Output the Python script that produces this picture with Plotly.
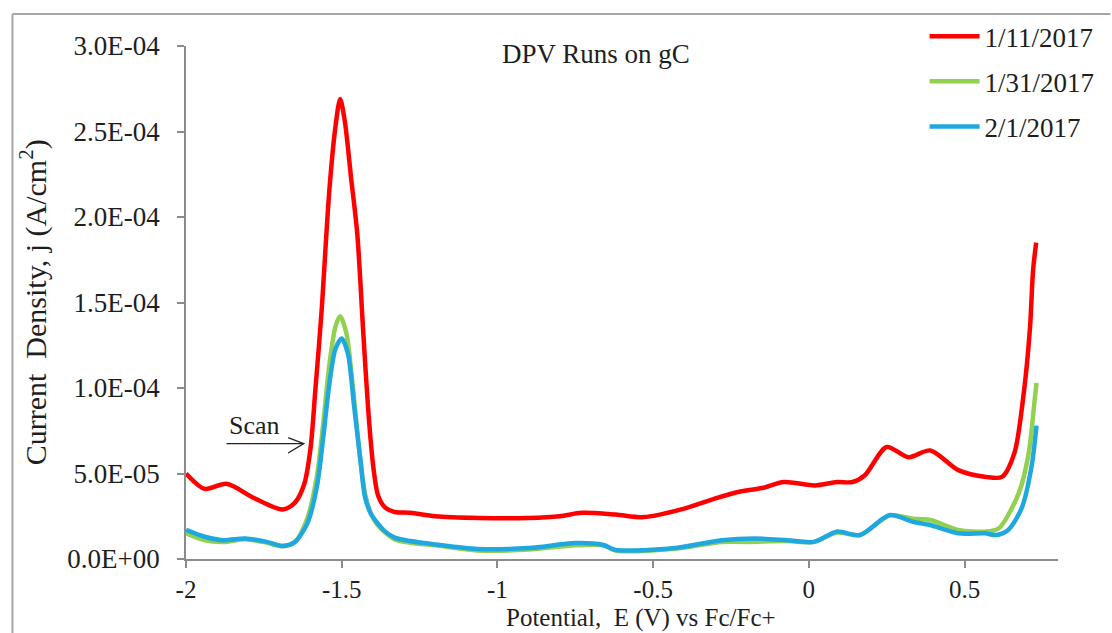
import plotly.graph_objects as go

# ---------------- data (current density in units of 1e-5 A/cm^2) ----------------
x_red = [-2.00, -1.94, -1.87, -1.78, -1.69, -1.65, -1.62, -1.60, -1.585, -1.565,
         -1.54, -1.52, -1.505, -1.49, -1.47, -1.45, -1.43, -1.414, -1.398, -1.383,
         -1.36, -1.33, -1.28, -1.20, -1.06, -0.90, -0.80, -0.73, -0.62, -0.53,
         -0.41, -0.30, -0.22, -0.15, -0.08, 0.02, 0.09, 0.14, 0.18, 0.25,
         0.32, 0.39, 0.48, 0.57, 0.62, 0.66, 0.69, 0.71, 0.72, 0.73]
y_red = [5.0, 4.1, 4.4, 3.55, 2.9, 3.3, 4.4, 6.5, 9.8, 14.4,
         21.5, 25.3, 26.9, 25.6, 22.3, 19.0, 13.0, 8.5, 5.3, 3.7,
         3.0, 2.75, 2.7, 2.5, 2.4, 2.4, 2.5, 2.7, 2.6, 2.45,
         2.9, 3.55, 3.95, 4.15, 4.5, 4.3, 4.5, 4.5, 4.9, 6.55,
         5.95, 6.35, 5.2, 4.8, 4.8, 6.2, 9.7, 13.5, 16.9, 18.5]

x_green = [-2.00, -1.94, -1.88, -1.81, -1.74, -1.69, -1.65, -1.61, -1.58, -1.56,
           -1.54, -1.52, -1.505, -1.485, -1.465, -1.445, -1.425, -1.405, -1.385, -1.36,
           -1.33, -1.28, -1.20, -1.065, -0.90, -0.75, -0.66, -0.62, -0.43, -0.28,
           -0.20, -0.07, 0.016, 0.09, 0.164, 0.26, 0.334, 0.387, 0.48, 0.566,
           0.61, 0.674, 0.706, 0.725, 0.731]
y_green = [1.5, 1.1, 1.0, 1.15, 0.95, 0.75, 1.0, 2.4, 4.8, 7.8,
           11.3, 13.6, 14.2, 13.2, 10.2, 6.6, 3.8, 2.6, 2.0, 1.55,
           1.15, 0.95, 0.8, 0.5, 0.55, 0.8, 0.8, 0.5, 0.6, 1.0,
           1.0, 1.05, 1.0, 1.55, 1.4, 2.55, 2.35, 2.3, 1.7, 1.6,
           1.8, 3.85, 6.2, 9.3, 10.3]

x_blue = [-2.00, -1.94, -1.88, -1.81, -1.74, -1.69, -1.65, -1.61, -1.58, -1.56,
          -1.54, -1.52, -1.50, -1.48, -1.46, -1.44, -1.425, -1.405, -1.385, -1.36,
          -1.33, -1.28, -1.20, -1.065, -0.90, -0.75, -0.66, -0.62, -0.43, -0.28,
          -0.175, -0.07, 0.016, 0.09, 0.164, 0.26, 0.334, 0.387, 0.48, 0.566,
          0.60, 0.64, 0.684, 0.715, 0.731]
y_blue = [1.7, 1.3, 1.1, 1.2, 1.0, 0.76, 1.0, 2.1, 4.2, 7.0,
          10.2, 12.3, 12.9, 12.0, 8.9, 5.8, 3.6, 2.6, 2.1, 1.6,
          1.25, 1.05, 0.85, 0.58, 0.64, 0.93, 0.82, 0.53, 0.64, 1.1,
          1.2, 1.1, 1.0, 1.6, 1.4, 2.57, 2.18, 2.0, 1.5, 1.5,
          1.4, 1.7, 3.0, 5.4, 7.8]

series_names = ["1/11/2017", "1/31/2017", "2/1/2017"]
series_colors = ["#FF0000", "#92D050", "#1FA8DF"]

y_tick_vals = [0, 5e-5, 1e-4, 1.5e-4, 2e-4, 2.5e-4, 3e-4]
y_tick_text = ["0.0E+00", "5.0E-05", "1.0E-04", "1.5E-04", "2.0E-04", "2.5E-04", "3.0E-04"]
x_tick_vals = [-2, -1.5, -1, -0.5, 0, 0.5]
x_tick_text = ["-2", "-1.5", "-1", "-0.5", "0", "0.5"]

FONT = "Liberation Serif, Times New Roman, DejaVu Serif, serif"
TXT = "#1E1E1E"

fig = go.Figure()
for i, (xs, ys) in enumerate([(x_red, y_red), (x_green, y_green), (x_blue, y_blue)]):
    fig.add_trace(go.Scatter(
        x=xs, y=[v * 1e-5 for v in ys], mode="lines",
        name=series_names[i], legendgroup=series_names[i],
        line=dict(color=series_colors[i], width=4.5, shape="spline", smoothing=0.8),
    ))

fig.update_layout(
    width=1112, height=633,
    margin=dict(l=186, r=45, t=45, b=74),
    paper_bgcolor="white", plot_bgcolor="white",
    font=dict(family=FONT, size=26, color=TXT),
    showlegend=True,
    legend=dict(
        x=0.847, y=1.066, xanchor="left", yanchor="top",
        bgcolor="rgba(0,0,0,0)", font=dict(family=FONT, size=27, color=TXT),
        tracegroupgap=7, itemwidth=50,
    ),
    xaxis=dict(
        range=[-2, 0.8], tickvals=x_tick_vals, ticktext=x_tick_text,
        showgrid=False, zeroline=False, showline=True, linecolor="#8C8C8C", linewidth=1.5,
        ticks="outside", ticklen=7, tickcolor="#8C8C8C", tickwidth=1.5,
        tickfont=dict(family=FONT, size=25, color=TXT), ticklabelstandoff=0,
    ),
    yaxis=dict(
        range=[0, 3e-4], tickvals=y_tick_vals, ticktext=y_tick_text,
        showgrid=False, zeroline=False, showline=True, linecolor="#8C8C8C", linewidth=1.5,
        ticks="outside", ticklen=7, tickcolor="#8C8C8C", tickwidth=1.5,
        tickfont=dict(family=FONT, size=27, color=TXT), ticklabelstandoff=12,
    ),
)

# chart-area border (top and left edges visible)
fig.add_shape(type="line", xref="paper", yref="paper", x0=-0.199, x1=1.06, y0=1.0623, y1=1.0623,
              line=dict(color="#A6A6A6", width=2))
fig.add_shape(type="line", xref="paper", yref="paper", x0=-0.199, x1=-0.199, y0=-0.2, y1=1.0623,
              line=dict(color="#A6A6A6", width=2))

# title inside plot
fig.add_annotation(text="DPV Runs on gC", xref="paper", yref="paper", x=0.4705, y=0.985,
                   xanchor="center", yanchor="middle", showarrow=False,
                   font=dict(family=FONT, size=27, color=TXT))
# axis titles
fig.add_annotation(text="Potential,  E (V) vs Fc/Fc+", xref="paper", yref="paper", x=0.522, y=-0.115,
                   xanchor="center", yanchor="middle", showarrow=False,
                   font=dict(family=FONT, size=25, color=TXT))
fig.add_annotation(text="Current  Density, j (A/cm<sup>2</sup>)", xref="paper", yref="paper",
                   x=-0.1745, y=0.50, xanchor="center", yanchor="middle", textangle=-90,
                   showarrow=False, font=dict(family=FONT, size=30, color=TXT))

# "Scan" label with arrow
fig.add_annotation(text="Scan", xref="x", yref="y", x=-1.779, y=7.8e-5,
                   xanchor="center", yanchor="middle", showarrow=False,
                   font=dict(family=FONT, size=26, color=TXT))
fig.add_shape(type="line", xref="x", yref="y", x0=-1.87, x1=-1.622, y0=6.75e-5, y1=6.75e-5,
              line=dict(color="#222222", width=1.3))
fig.add_shape(type="path", xref="x", yref="y",
              path="M -1.672,7.1e-5 L -1.622,6.75e-5 L -1.672,6.2e-5",
              line=dict(color="#222222", width=1.3))

fig.write_html("out.html")
